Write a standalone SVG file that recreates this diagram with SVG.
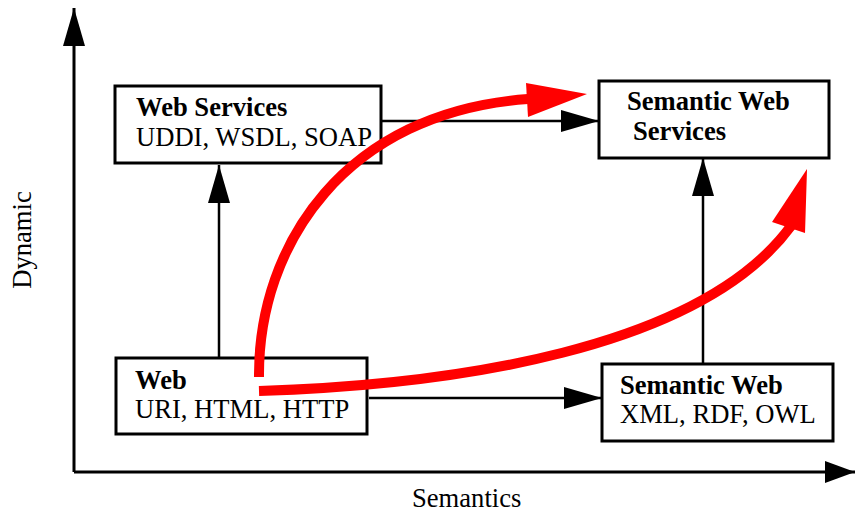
<svg xmlns="http://www.w3.org/2000/svg" width="855" height="512" viewBox="0 0 855 512">
<defs>
<style>
.box{fill:#fff;stroke:#000;stroke-width:3}
.t{font-family:"Liberation Serif","Times New Roman",serif;font-size:26.6px;fill:#000}
.b{font-weight:bold}
.ln{fill:none;stroke:#000;stroke-width:2.5}
.ax{fill:none;stroke:#000;stroke-width:3}
.red{fill:none;stroke:#f00;stroke-width:10}
.rh{fill:#f00}
</style>
<marker id="arr" markerUnits="userSpaceOnUse" markerWidth="38" markerHeight="22" refX="38" refY="11" orient="auto" viewBox="0 0 38 22">
<path d="M0,0 L38,11 L0,22 z" fill="#000"/>
</marker>
<marker id="arrx" markerUnits="userSpaceOnUse" markerWidth="30" markerHeight="22" refX="30" refY="11" orient="auto" viewBox="0 0 30 22">
<path d="M0,0 L30,11 L0,22 z" fill="#000"/>
</marker>
</defs>
<rect width="855" height="512" fill="#fff"/>
<g id="axes">
<line class="ax" x1="74" y1="472" x2="74" y2="8" marker-end="url(#arr)"/>
<line class="ax" x1="74" y1="472" x2="855" y2="472" marker-end="url(#arrx)"/>
<text class="t" x="31" y="240" text-anchor="middle" transform="rotate(-90 31 240)">Dynamic</text>
<text class="t" x="412" y="507">Semantics</text>
</g>
<g id="connectors">
<line class="ln" x1="219" y1="358" x2="219" y2="165" marker-end="url(#arr)"/>
<line class="ln" x1="703" y1="364" x2="703" y2="158" marker-end="url(#arr)"/>
<line class="ln" x1="376" y1="121" x2="599" y2="121" marker-end="url(#arr)"/>
<line class="ln" x1="369" y1="398" x2="602" y2="398" marker-end="url(#arr)"/>
</g>
<g id="web-services">
<rect class="box" x="115" y="86" width="266" height="77"/>
<text class="t b" x="136" y="116">Web Services</text>
<text class="t" x="136" y="146">UDDI, WSDL, SOAP</text>
</g>
<g id="semantic-web-services">
<rect class="box" x="599" y="81" width="230" height="77"/>
<text class="t b" x="627" y="110">Semantic Web</text>
<text class="t b" x="633" y="140">Services</text>
</g>
<g id="web">
<rect class="box" x="116" y="358" width="251" height="76"/>
<text class="t b" x="135" y="389">Web</text>
<text class="t" x="135" y="418">URI, HTML, HTTP</text>
</g>
<g id="semantic-web">
<rect class="box" x="602" y="364" width="231" height="77"/>
<text class="t b" x="620" y="394">Semantic Web</text>
<text class="t" x="620" y="423">XML, RDF, OWL</text>
</g>
<g id="red-arrows">
<path class="red" d="M259,377 C258,245 345,112 528,99"/>
<polygon class="rh" points="526,83 587,94 528,117"/>
<path class="red" d="M259,391 C450,385 700,350 791,226"/>
<polygon class="rh" points="772,222 807,169 805,233"/>
</g>
</svg>
